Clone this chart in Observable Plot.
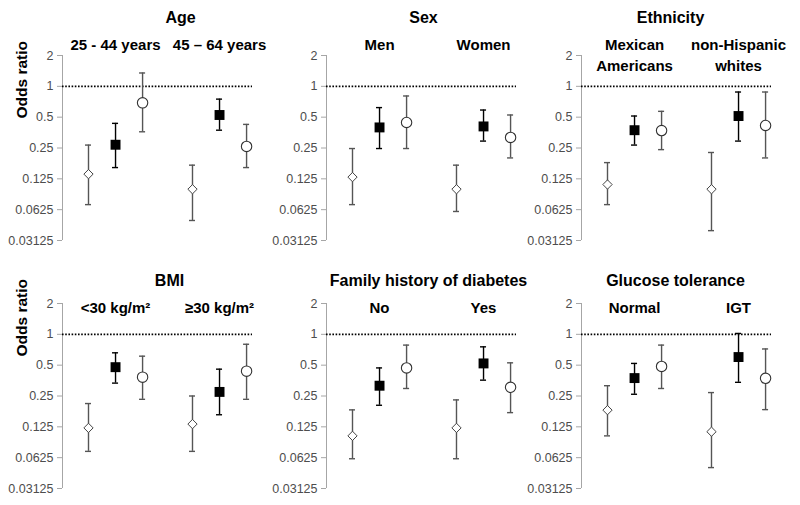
<!DOCTYPE html>
<html><head><meta charset="utf-8">
<script src="https://cdn.jsdelivr.net/npm/d3@7"></script>
<script src="https://cdn.jsdelivr.net/npm/@observablehq/plot@0.6"></script>
<style>
body{margin:0;background:#fff;}
#chart{position:relative;width:800px;height:505px;background:#fff;font-family:"Liberation Sans",Arial,sans-serif;}
.panel{position:absolute;}
</style></head><body><div id="chart"></div>
<script>
// ---- data ----
const panelTitles = ["Age", "Sex", "Ethnicity", "BMI", "Family history of diabetes", "Glucose tolerance"];
const groupLabels = [
  ["25 - 44 years", "45 – 64 years"],
  ["Men", "Women"],
  ["Mexican\nAmericans", "non-Hispanic\nwhites"],
  ["<30 kg/m²", "≥30 kg/m²"],
  ["No", "Yes"],
  ["Normal", "IGT"]
];
const markerTypes = ["diamond", "square", "circle"];
const yTicks = [2, 1, 0.5, 0.25, 0.125, 0.0625, 0.03125];
const yTickLabels = ["2", "1", "0.5", "0.25", "0.125", "0.0625", "0.03125"];

// odds ratios: [group1 diamond, square, circle, group2 diamond, square, circle]
const orAge = [0.139, 0.269, 0.69, 0.099, 0.525, 0.259];
const loAge = [0.070, 0.161, 0.36, 0.049, 0.373, 0.161];
const hiAge = [0.267, 0.435, 1.35, 0.17, 0.75, 0.425];

const orSex = [0.130, 0.397, 0.444, 0.099, 0.406, 0.317];
const loSex = [0.070, 0.247, 0.247, 0.060, 0.292, 0.200];
const hiSex = [0.247, 0.62, 0.805, 0.17, 0.587, 0.525];

const orEth = [0.11, 0.373, 0.37, 0.099, 0.513, 0.415];
const loEth = [0.07, 0.267, 0.241, 0.039, 0.292, 0.2];
const hiEth = [0.18, 0.513, 0.57, 0.226, 0.88, 0.88];

const orBmi = [0.122, 0.478, 0.382, 0.133, 0.274, 0.437];
const loBmi = [0.072, 0.334, 0.232, 0.072, 0.164, 0.232];
const hiBmi = [0.211, 0.66, 0.612, 0.25, 0.457, 0.80];

const orFam = [0.102, 0.315, 0.47, 0.122, 0.52, 0.304];
const loFam = [0.061, 0.203, 0.296, 0.061, 0.357, 0.172];
const hiFam = [0.183, 0.47, 0.785, 0.229, 0.755, 0.527];

const orGlu = [0.182, 0.374, 0.486, 0.112, 0.60, 0.372];
const loGlu = [0.102, 0.26, 0.296, 0.05, 0.34, 0.184];
const hiGlu = [0.315, 0.52, 0.785, 0.27, 1.02, 0.72];

const orAll = [orAge, orSex, orEth, orBmi, orFam, orGlu];
const loAll = [loAge, loSex, loEth, loBmi, loFam, loGlu];
const hiAll = [hiAge, hiSex, hiEth, hiBmi, hiFam, hiGlu];

// ---- layout ----
const colLeft = [0, 264, 519];
const colWidth = [264, 255, 281];
const rowTop = [0, 248];
const rowText = [
  {titleDy: -44, labelDy: -20.5, oddsDy: -29.5},
  {titleDy: -29, labelDy: -5.5, oddsDy: -39.5}
];
const titleDx = [23, 2, -6, 12, 7, -1];
const FONT = '"Liberation Sans", Arial, sans-serif';

const diamondSymbol = {
  draw(ctx, size) {
    const h = Math.sqrt(size / 2);
    ctx.moveTo(0, -h); ctx.lineTo(h, 0); ctx.lineTo(0, h); ctx.lineTo(-h, 0); ctx.closePath();
  }
};

const chart = document.getElementById("chart");
const offset = 0.26;
const cap = 0.029;

panelTitles.forEach((title, p) => {
  const row = Math.floor(p / 3), col = p % 3;
  const rows = [];
  for (let g = 0; g < 2; g++) {
    for (let m = 0; m < 3; m++) {
      const i = g * 3 + m;
      rows.push({group: g, marker: markerTypes[m], x: g + (m - 1) * offset,
        or: orAll[p][i], lo: loAll[p][i], hi: hiAll[p][i]});
    }
  }
  const barColor = d => d.marker === "square" ? "#000" : "#555";
  const tx = rowText[row];
  const marks = [
    Plot.ruleX([-0.51], {stroke: "#a6a6a6", strokeWidth: 1}),
    Plot.axisY({ticks: yTicks, tickFormat: d => yTickLabels[yTicks.indexOf(d)], tickSize: 5, tickPadding: 4,
      stroke: "#a6a6a6", fill: "#4d4d4d", fontSize: 12.5, fontFamily: FONT, label: null}),
    Plot.ruleY([1], {stroke: "#000", strokeWidth: 1.6, strokeDasharray: "1.6,1.6"}),
    Plot.ruleX(rows, {x: "x", y1: "lo", y2: "hi", stroke: barColor, strokeWidth: 1.4}),
    Plot.ruleY(rows, {y: "lo", x1: d => d.x - cap, x2: d => d.x + cap, stroke: barColor, strokeWidth: 1.4}),
    Plot.ruleY(rows, {y: "hi", x1: d => d.x - cap, x2: d => d.x + cap, stroke: barColor, strokeWidth: 1.4}),
    Plot.dot(rows.filter(d => d.marker === "diamond"), {x: "x", y: "or", symbol: diamondSymbol, r: 3.7, fill: "#fff", stroke: "#444", strokeWidth: 1}),
    Plot.dot(rows.filter(d => d.marker === "square"), {x: "x", y: "or", symbol: "square", r: 5.6, fill: "#000", stroke: "none"}),
    Plot.dot(rows.filter(d => d.marker === "circle"), {x: "x", y: "or", symbol: "circle", r: 5.2, fill: "#fff", stroke: "#333", strokeWidth: 1.1}),
    Plot.text([title], {frameAnchor: "top", lineAnchor: "top", dx: titleDx[p], dy: tx.titleDy,
      fontSize: 16, fontWeight: "bold", fill: "#000", fontFamily: FONT}),
    Plot.text([0, 1], {x: d => d, text: d => groupLabels[p][d], frameAnchor: "top", lineAnchor: "top",
      dy: tx.labelDy, lineHeight: 1.4, fontSize: 15, fontWeight: "bold", fill: "#000", fontFamily: FONT})
  ];
  if (col === 0) {
    marks.push(Plot.text(["Odds ratio"], {frameAnchor: "left", rotate: -90, dx: -40, dy: tx.oddsDy,
      fontSize: 15.5, fontWeight: "bold", fill: "#000", fontFamily: FONT}));
  }
  const svg = Plot.plot({
    width: colWidth[col],
    height: 250,
    marginTop: 55,
    marginBottom: 10,
    marginLeft: 62,
    marginRight: colWidth[col] - 62 - 190,
    style: {overflow: "visible", background: "none", fontFamily: FONT},
    x: {type: "linear", domain: [-0.51, 1.317], axis: null},
    y: {type: "log", base: 2, domain: [0.03125, 2], axis: null},
    marks
  });
  const div = document.createElement("div");
  div.className = "panel";
  div.style.left = colLeft[col] + "px";
  div.style.top = rowTop[row] + "px";
  div.appendChild(svg);
  chart.appendChild(div);
});
</script></body></html>
